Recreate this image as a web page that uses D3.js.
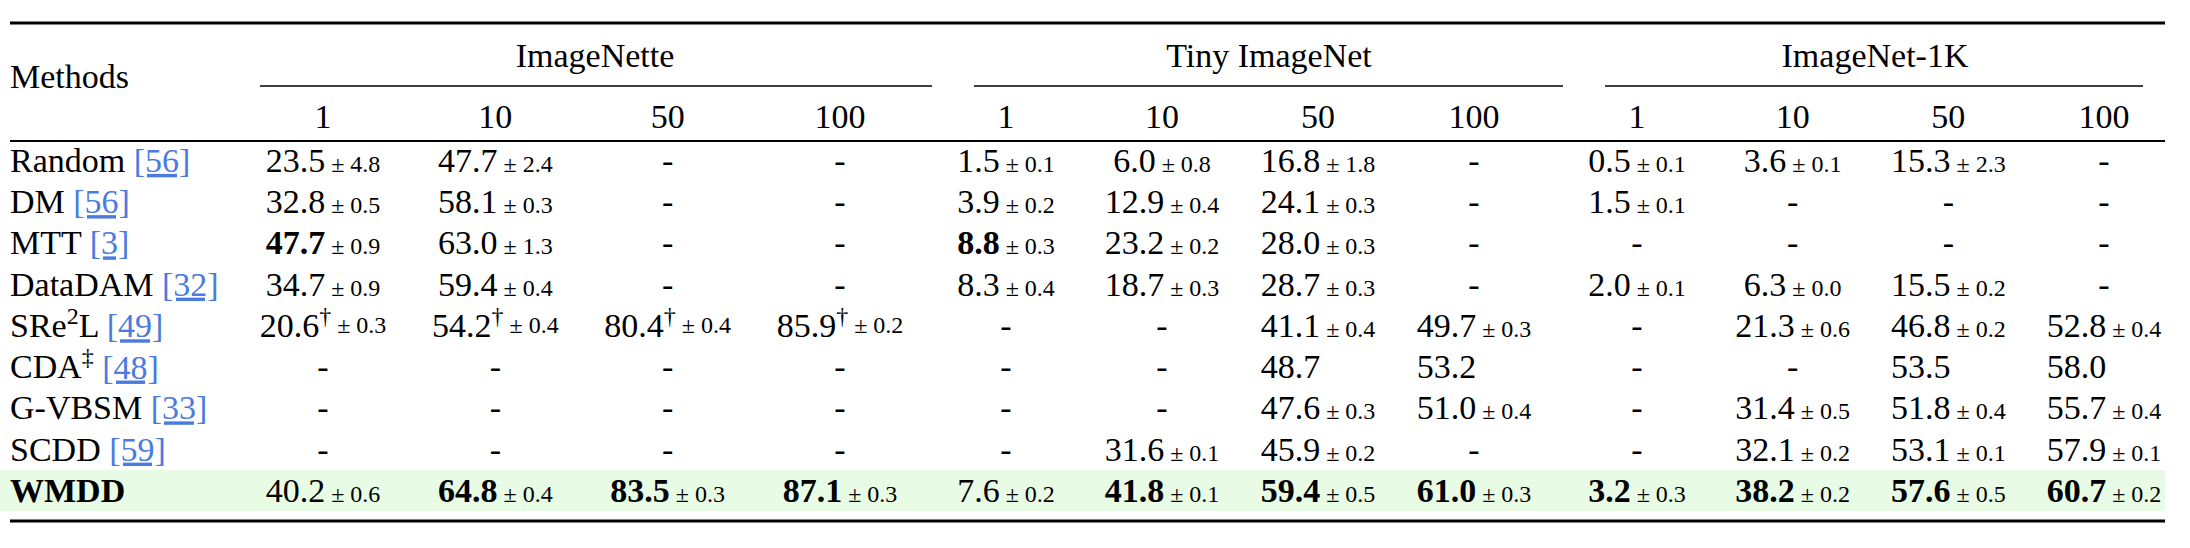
<!DOCTYPE html>
<html><head><meta charset="utf-8">
<script src="https://cdn.jsdelivr.net/npm/d3@7"></script>
<style>body{margin:0;background:#fff} text{font-family:"Liberation Serif",serif}</style>
</head><body>
<svg id="t" width="2190" height="548"></svg>
<script>
// table contents
var groups = ["ImageNette", "Tiny ImageNet", "ImageNet-1K"];
var ipc = ["1", "10", "50", "100"];
var methods = ["Random", "DM", "MTT", "DataDAM", "SRe2L", "CDA", "G-VBSM", "SCDD", "WMDD"];
var refs = ["56", "56", "3", "32", "49", "48", "33", "59", null];

// each row: 12 cells as "value|sd" ; "-" = empty ; "*" = bold ; "†" = dagger
var rows = [
  ["23.5|4.8", "47.7|2.4", "-", "-", "1.5|0.1", "6.0|0.8", "16.8|1.8", "-", "0.5|0.1", "3.6|0.1", "15.3|2.3", "-"],
  ["32.8|0.5", "58.1|0.3", "-", "-", "3.9|0.2", "12.9|0.4", "24.1|0.3", "-", "1.5|0.1", "-", "-", "-"],
  ["47.7*|0.9", "63.0|1.3", "-", "-", "8.8*|0.3", "23.2|0.2", "28.0|0.3", "-", "-", "-", "-", "-"],
  ["34.7|0.9", "59.4|0.4", "-", "-", "8.3|0.4", "18.7|0.3", "28.7|0.3", "-", "2.0|0.1", "6.3|0.0", "15.5|0.2", "-"],
  ["20.6†|0.3", "54.2†|0.4", "80.4†|0.4", "85.9†|0.2", "-", "-", "41.1|0.4", "49.7|0.3", "-", "21.3|0.6", "46.8|0.2", "52.8|0.4"],
  ["-", "-", "-", "-", "-", "-", "48.7|", "53.2|", "-", "-", "53.5|", "58.0|"],
  ["-", "-", "-", "-", "-", "-", "47.6|0.3", "51.0|0.4", "-", "31.4|0.5", "51.8|0.4", "55.7|0.4"],
  ["-", "-", "-", "-", "-", "31.6|0.1", "45.9|0.2", "-", "-", "32.1|0.2", "53.1|0.1", "57.9|0.1"],
  ["40.2|0.6", "64.8*|0.4", "83.5*|0.3", "87.1*|0.3", "7.6|0.2", "41.8*|0.1", "59.4*|0.5", "61.0*|0.3", "3.2*|0.3", "38.2*|0.2", "57.6*|0.5", "60.7*|0.2"]
];

var svg = d3.select("#t");
var fs = 34, fsSmall = 24;

var groupRange = [[323, 840], [1006, 1474], [1637, 2104]];
var groupRule = [[260, 932], [974, 1563], [1605, 2143]];
var groupCenter = [595, 1269, 1875];
var xs = groupRange.map(function(r) { return d3.scalePoint().domain(ipc).range(r); });
var y = d3.scalePoint().domain(methods).range([160, 490]);

function colX(i) { return xs[Math.floor(i / 4)](ipc[i % 4]); }

// highlight last row
svg.append("rect").attr("x", 0).attr("y", y("WMDD") - 20).attr("width", 2165).attr("height", 41)
  .attr("fill", "#e8fbe5");

// rules
function rule(x1, x2, yy, w) {
  svg.append("line").attr("x1", x1).attr("x2", x2).attr("y1", yy).attr("y2", yy)
    .attr("stroke", "#000").attr("stroke-width", w);
}
rule(10, 2165, 23, 3.2);
rule(10, 2165, 141, 2);
rule(10, 2165, 521, 3.2);
groupRule.forEach(function(r) { rule(r[0], r[1], 86, 1.3); });

var g = svg.append("g").attr("font-size", fs).attr("fill", "#000");

g.append("text").attr("x", 10).attr("y", 76).attr("dy", "0.35em").text("Methods");
g.selectAll(".grp").data(groups).enter().append("text")
  .attr("x", function(d, i) { return groupCenter[i]; }).attr("y", 55).attr("dy", "0.35em")
  .attr("text-anchor", "middle").text(function(d) { return d; });
g.selectAll(".ipc").data(d3.range(12)).enter().append("text")
  .attr("x", colX).attr("y", 116).attr("dy", "0.35em").attr("text-anchor", "middle")
  .text(function(i) { return ipc[i % 4]; });

// method labels
methods.forEach(function(m, r) {
  var t = g.append("text").attr("x", 10).attr("y", y(m)).attr("dy", "0.35em");
  if (m === "SRe2L") {
    t.append("tspan").text("SRe");
    t.append("tspan").attr("font-size", fsSmall).attr("dy", "-0.55em").text("2");
    t.append("tspan").attr("dy", "0.4em").text("L");
  } else if (m === "CDA") {
    t.append("tspan").text("CDA");
    t.append("tspan").attr("font-size", fsSmall).attr("dy", "-0.55em").text("‡");
  } else {
    t.append("tspan").text(m);
  }
  if (m === "WMDD") t.attr("font-weight", "bold");
  if (refs[r]) {
    var sp = t.append("tspan").text(" ");
    if (m === "CDA") sp.attr("dy", "0.4em");
    t.append("tspan").attr("fill", "#4a7be0").attr("text-decoration", "underline").text("[" + refs[r] + "]");
  }
});

// cells
rows.forEach(function(row, r) {
  row.forEach(function(cell, c) {
    var t = g.append("text").attr("x", colX(c)).attr("y", y(methods[r])).attr("dy", "0.35em")
      .attr("text-anchor", "middle");
    if (cell === "-") { t.text("-"); return; }
    var parts = cell.split("|");
    var v = parts[0], bold = v.indexOf("*") >= 0, dag = v.indexOf("†") >= 0;
    v = v.replace("*", "").replace("†", "");
    t.append("tspan").attr("font-weight", bold ? "bold" : null).text(v);
    var sdText = " ± " + (parts[1] || "0.0");
    if (dag) {
      t.append("tspan").attr("font-size", fsSmall).attr("dy", "-0.55em").text("†");
      t.append("tspan").attr("dy", "0.4em").attr("font-size", fsSmall).text(" " + sdText);
      return;
    }
    var sd = t.append("tspan").attr("font-size", fsSmall).text(sdText);
    if (!parts[1]) sd.attr("fill-opacity", 0);
  });
});
</script>
</body></html>
